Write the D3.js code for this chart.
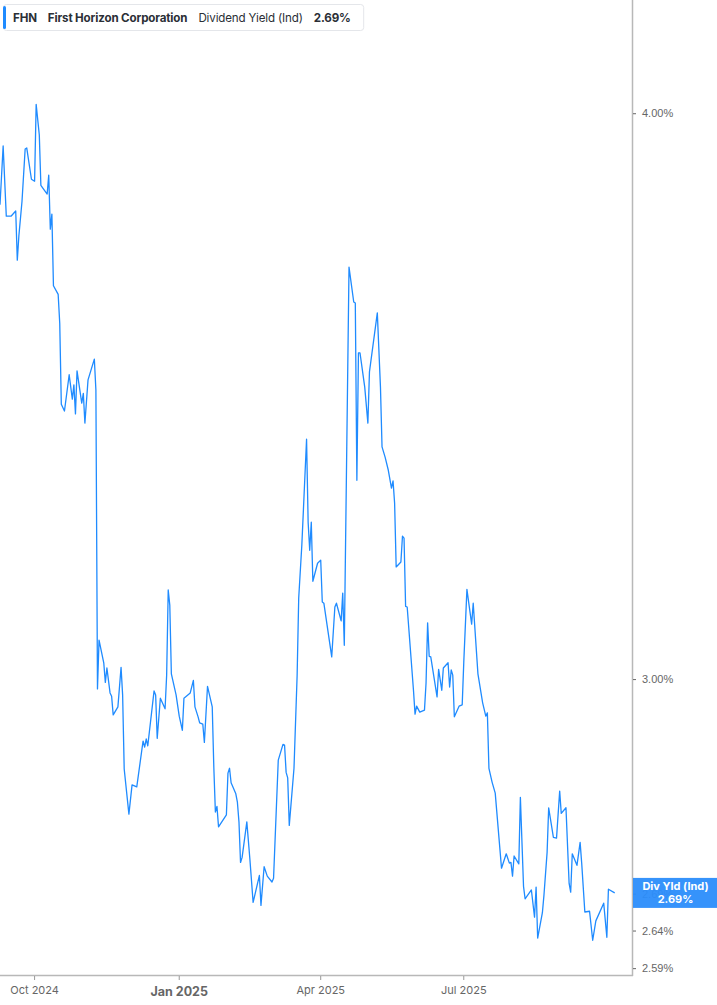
<!DOCTYPE html>
<meta charset="utf-8">
<style>
body { margin: 0; background: #fff; }
svg { display: block; font-family: Inter, Roboto, "Noto Sans", sans-serif; }
.hdr text { font-size: 11.6px; fill: #2b2f36; }
.yax text { font-size: 11px; fill: #666; }
.xax text { fill: #666; }
</style>
<body>
<script src="https://d3js.org/d3.v7.min.js"></script>
<script>

var ticker = "FHN",
    company = "First Horizon Corporation",
    metric = "Dividend Yield (Ind)",
    lastLabel = "2.69%";

var dates = [
  "2024-09-09","2024-09-11","2024-09-13","2024-09-16","2024-09-19","2024-09-20","2024-09-21","2024-09-23","2024-09-25","2024-09-26",
  "2024-09-29","2024-10-01","2024-10-02","2024-10-04","2024-10-05","2024-10-09","2024-10-10","2024-10-11","2024-10-12","2024-10-13",
  "2024-10-16","2024-10-17","2024-10-18","2024-10-20","2024-10-23","2024-10-25","2024-10-26","2024-10-27","2024-10-28","2024-10-31",
  "2024-11-01","2024-11-02","2024-11-04","2024-11-08","2024-11-09","2024-11-10","2024-11-11","2024-11-14","2024-11-15","2024-11-16",
  "2024-11-18","2024-11-19","2024-11-20","2024-11-23","2024-11-25","2024-11-26","2024-11-27","2024-11-30","2024-12-02","2024-12-05",
  "2024-12-09","2024-12-10","2024-12-11","2024-12-12","2024-12-16","2024-12-17","2024-12-18","2024-12-20","2024-12-23","2024-12-24",
  "2024-12-25","2024-12-26","2024-12-27","2024-12-30","2025-01-01","2025-01-03","2025-01-04","2025-01-08","2025-01-10","2025-01-11",
  "2025-01-13","2025-01-14","2025-01-16","2025-01-17","2025-01-19","2025-01-22","2025-01-23","2025-01-24","2025-01-25","2025-01-26",
  "2025-01-31","2025-02-01","2025-02-02","2025-02-03","2025-02-06","2025-02-07","2025-02-08","2025-02-09","2025-02-10","2025-02-13",
  "2025-02-15","2025-02-17","2025-02-21","2025-02-22","2025-02-24","2025-02-26","2025-03-01","2025-03-02","2025-03-05","2025-03-08",
  "2025-03-09","2025-03-10","2025-03-11","2025-03-12","2025-03-15","2025-03-17","2025-03-18","2025-03-20","2025-03-23","2025-03-24",
  "2025-03-25","2025-03-26","2025-03-27","2025-03-30","2025-04-01","2025-04-02","2025-04-03","2025-04-08","2025-04-10","2025-04-11",
  "2025-04-14","2025-04-15","2025-04-16","2025-04-19","2025-04-22","2025-04-23","2025-04-24","2025-04-25","2025-04-26","2025-04-29",
  "2025-05-01","2025-05-02","2025-05-07","2025-05-09","2025-05-10","2025-05-12","2025-05-14","2025-05-16","2025-05-17","2025-05-18",
  "2025-05-19","2025-05-22","2025-05-23","2025-05-24","2025-05-25","2025-05-26","2025-05-30","2025-05-31","2025-06-01","2025-06-03",
  "2025-06-06","2025-06-07","2025-06-08","2025-06-09","2025-06-10","2025-06-14","2025-06-15","2025-06-17","2025-06-18","2025-06-21",
  "2025-06-22","2025-06-23","2025-06-24","2025-06-25","2025-06-28","2025-06-30","2025-07-01","2025-07-03","2025-07-06","2025-07-07",
  "2025-07-10","2025-07-13","2025-07-15","2025-07-16","2025-07-17","2025-07-19","2025-07-21","2025-07-25","2025-07-28","2025-07-30",
  "2025-07-31","2025-08-01","2025-08-02","2025-08-05","2025-08-06","2025-08-08","2025-08-09","2025-08-13","2025-08-15","2025-08-16",
  "2025-08-17","2025-08-20","2025-08-21","2025-08-23","2025-08-24","2025-08-27","2025-08-29","2025-08-31","2025-09-01","2025-09-04",
  "2025-09-06","2025-09-07","2025-09-08","2025-09-11","2025-09-13","2025-09-14","2025-09-16","2025-09-19","2025-09-21","2025-09-23",
  "2025-09-28","2025-09-30","2025-10-01","2025-10-05"
];

// dividend yield, %
var yields = [
  3.818,3.934,3.796,3.796,3.806,3.712,3.758,3.825,3.928,3.930,
  3.868,3.864,4.018,3.956,3.856,3.839,3.876,3.771,3.800,3.664,
  3.648,3.595,3.450,3.438,3.502,3.459,3.484,3.433,3.509,3.452,
  3.469,3.417,3.493,3.530,3.475,2.985,3.060,3.025,2.995,3.017,
  2.979,2.974,2.946,2.958,3.018,2.976,2.866,2.801,2.843,2.840,
  2.907,2.898,2.910,2.900,2.982,2.976,2.911,2.971,2.955,3.006,
  3.139,3.115,3.008,2.976,2.944,2.923,2.971,2.979,2.998,2.958,
  2.943,2.934,2.932,2.905,2.989,2.958,2.869,2.804,2.812,2.783,
  2.800,2.860,2.867,2.846,2.830,2.818,2.790,2.733,2.740,2.790,
  2.736,2.678,2.715,2.674,2.727,2.714,2.706,2.711,2.879,2.902,
  2.901,2.861,2.853,2.785,2.867,3.006,3.126,3.212,3.389,3.249,
  3.203,3.249,3.153,3.182,3.187,3.120,3.118,3.034,3.112,3.118,
  3.090,3.134,3.052,3.699,3.634,3.632,3.319,3.541,3.541,3.480,
  3.417,3.507,3.614,3.480,3.376,3.358,3.336,3.306,3.318,3.281,
  3.176,3.184,3.226,3.223,3.113,3.112,2.983,2.947,2.959,2.950,
  2.953,2.994,3.087,3.035,3.034,2.973,3.015,2.983,3.017,3.025,
  2.988,3.014,3.006,2.943,2.959,2.961,3.026,3.140,3.085,3.118,
  3.008,2.964,2.944,2.949,2.867,2.847,2.831,2.725,2.745,2.732,
  2.733,2.714,2.742,2.731,2.825,2.700,2.683,2.695,2.658,2.699,
  2.630,2.664,2.688,2.747,2.810,2.768,2.767,2.834,2.802,2.810,
  2.704,2.692,2.745,2.729,2.761,2.732,2.665,2.666,2.627,2.653,
  2.677,2.631,2.696,2.691
];

var yTicks = [4.00, 3.00, 2.69, 2.64, 2.59];
var xTicks = ["2024-10-01", "2025-01-01", "2025-04-01", "2025-07-01"];
var xDomain = ["2024-09-09", "2025-10-16"];
var yDomain = [2.581, 4.237];

var width = 717,
    height = 1005,
    plotW = 632,
    plotH = 975;

var parse = d3.timeParse("%Y-%m-%d");
var data = dates.map(function(d, i) { return { date: parse(d), value: yields[i] }; });

var x = d3.scaleTime()
    .domain(xDomain.map(parse))
    .range([0, plotW]);

var y = d3.scaleLog()
    .domain(yDomain)
    .range([plotH, 0]);

var svg = d3.select("body").append("svg")
    .attr("width", width)
    .attr("height", height);

var line = d3.line()
    .x(function(d) { return x(d.date); })
    .y(function(d) { return y(d.value); });

svg.append("path")
    .datum(data)
    .attr("fill", "none")
    .attr("stroke", "#1f8bff")
    .attr("stroke-width", 1.3)
    .attr("stroke-linejoin", "round")
    .attr("d", line);

// frame
svg.append("line")
    .attr("x1", plotW + 0.5).attr("x2", plotW + 0.5)
    .attr("y1", 0).attr("y2", plotH + 1)
    .attr("stroke", "#b8b8b8").attr("stroke-width", 1.5);
svg.append("line")
    .attr("x1", 0).attr("x2", plotW + 1)
    .attr("y1", plotH + 0.5).attr("y2", plotH + 0.5)
    .attr("stroke", "#b8b8b8").attr("stroke-width", 1.5);

// right axis
var yAxis = d3.axisRight(y)
    .tickValues(yTicks)
    .tickSize(3)
    .tickPadding(6)
    .tickFormat(function(d) { return d.toFixed(2) + "%"; });

var ya = svg.append("g")
    .attr("class", "yax")
    .attr("transform", "translate(" + (plotW + 1) + ",0)")
    .call(yAxis);
ya.select(".domain").remove();
ya.selectAll(".tick line").attr("stroke", "#666");

// bottom axis
var xa = svg.append("g")
    .attr("class", "xax")
    .attr("transform", "translate(0," + (plotH + 1) + ")");

var xt = xa.selectAll("g")
    .data(xTicks.map(parse))
    .enter().append("g")
    .attr("transform", function(d) { return "translate(" + x(d) + ",0)"; });

xt.append("line")
    .attr("y2", 4)
    .attr("stroke", "#999");

xt.append("text")
    .attr("text-anchor", "middle")
    .attr("y", function(d) { return d.getMonth() === 0 ? 20 : 18; })
    .attr("font-size", function(d) { return d.getMonth() === 0 ? "12.5px" : "11px"; })
    .attr("font-weight", function(d) { return d.getMonth() === 0 ? 700 : 400; })
    .text(d3.timeFormat("%b %Y"));

// last value badge
var last = data[data.length - 1];
var by = y(last.value);
var badge = svg.append("g")
    .attr("transform", "translate(" + (plotW + 1) + "," + by + ")");
badge.append("rect")
    .attr("x", 0).attr("y", -15)
    .attr("width", width - plotW).attr("height", 30)
    .attr("fill", "#2b8dfb")
    .attr("fill-opacity", 0.95);
badge.append("text")
    .attr("x", (width - plotW) / 2).attr("y", -3)
    .attr("text-anchor", "middle")
    .attr("fill", "#fff").attr("font-size", "11px").attr("font-weight", 700)
    .text("Div Yld (Ind)");
badge.append("text")
    .attr("x", (width - plotW) / 2).attr("y", 10)
    .attr("text-anchor", "middle")
    .attr("fill", "#fff").attr("font-size", "11px").attr("font-weight", 700)
    .text(lastLabel);

// header legend
var hdr = svg.append("g").attr("class", "hdr");
var box = hdr.append("rect")
    .attr("x", 3.5).attr("y", 4.5)
    .attr("height", 26).attr("rx", 3)
    .attr("fill", "#fff").attr("stroke", "#e4e6ea");
hdr.append("rect")
    .attr("x", 3).attr("y", 6)
    .attr("width", 3).attr("height", 23).attr("rx", 1.5)
    .attr("fill", "#1f8bff");

var parts = [
  { t: ticker, w: 700 },
  { t: company, w: 700 },
  { t: metric, w: 400 },
  { t: lastLabel, w: 700 }
];
var cx = 13;
parts.forEach(function(p) {
  var t = hdr.append("text")
      .attr("x", cx).attr("y", 21.5)
      .attr("font-weight", p.w)
      .attr("letter-spacing", "-0.15px")
      .text(p.t);
  cx += t.node().getComputedTextLength() + 11;
});
box.attr("width", cx - 11 + 13 - 3.5);

</script>
